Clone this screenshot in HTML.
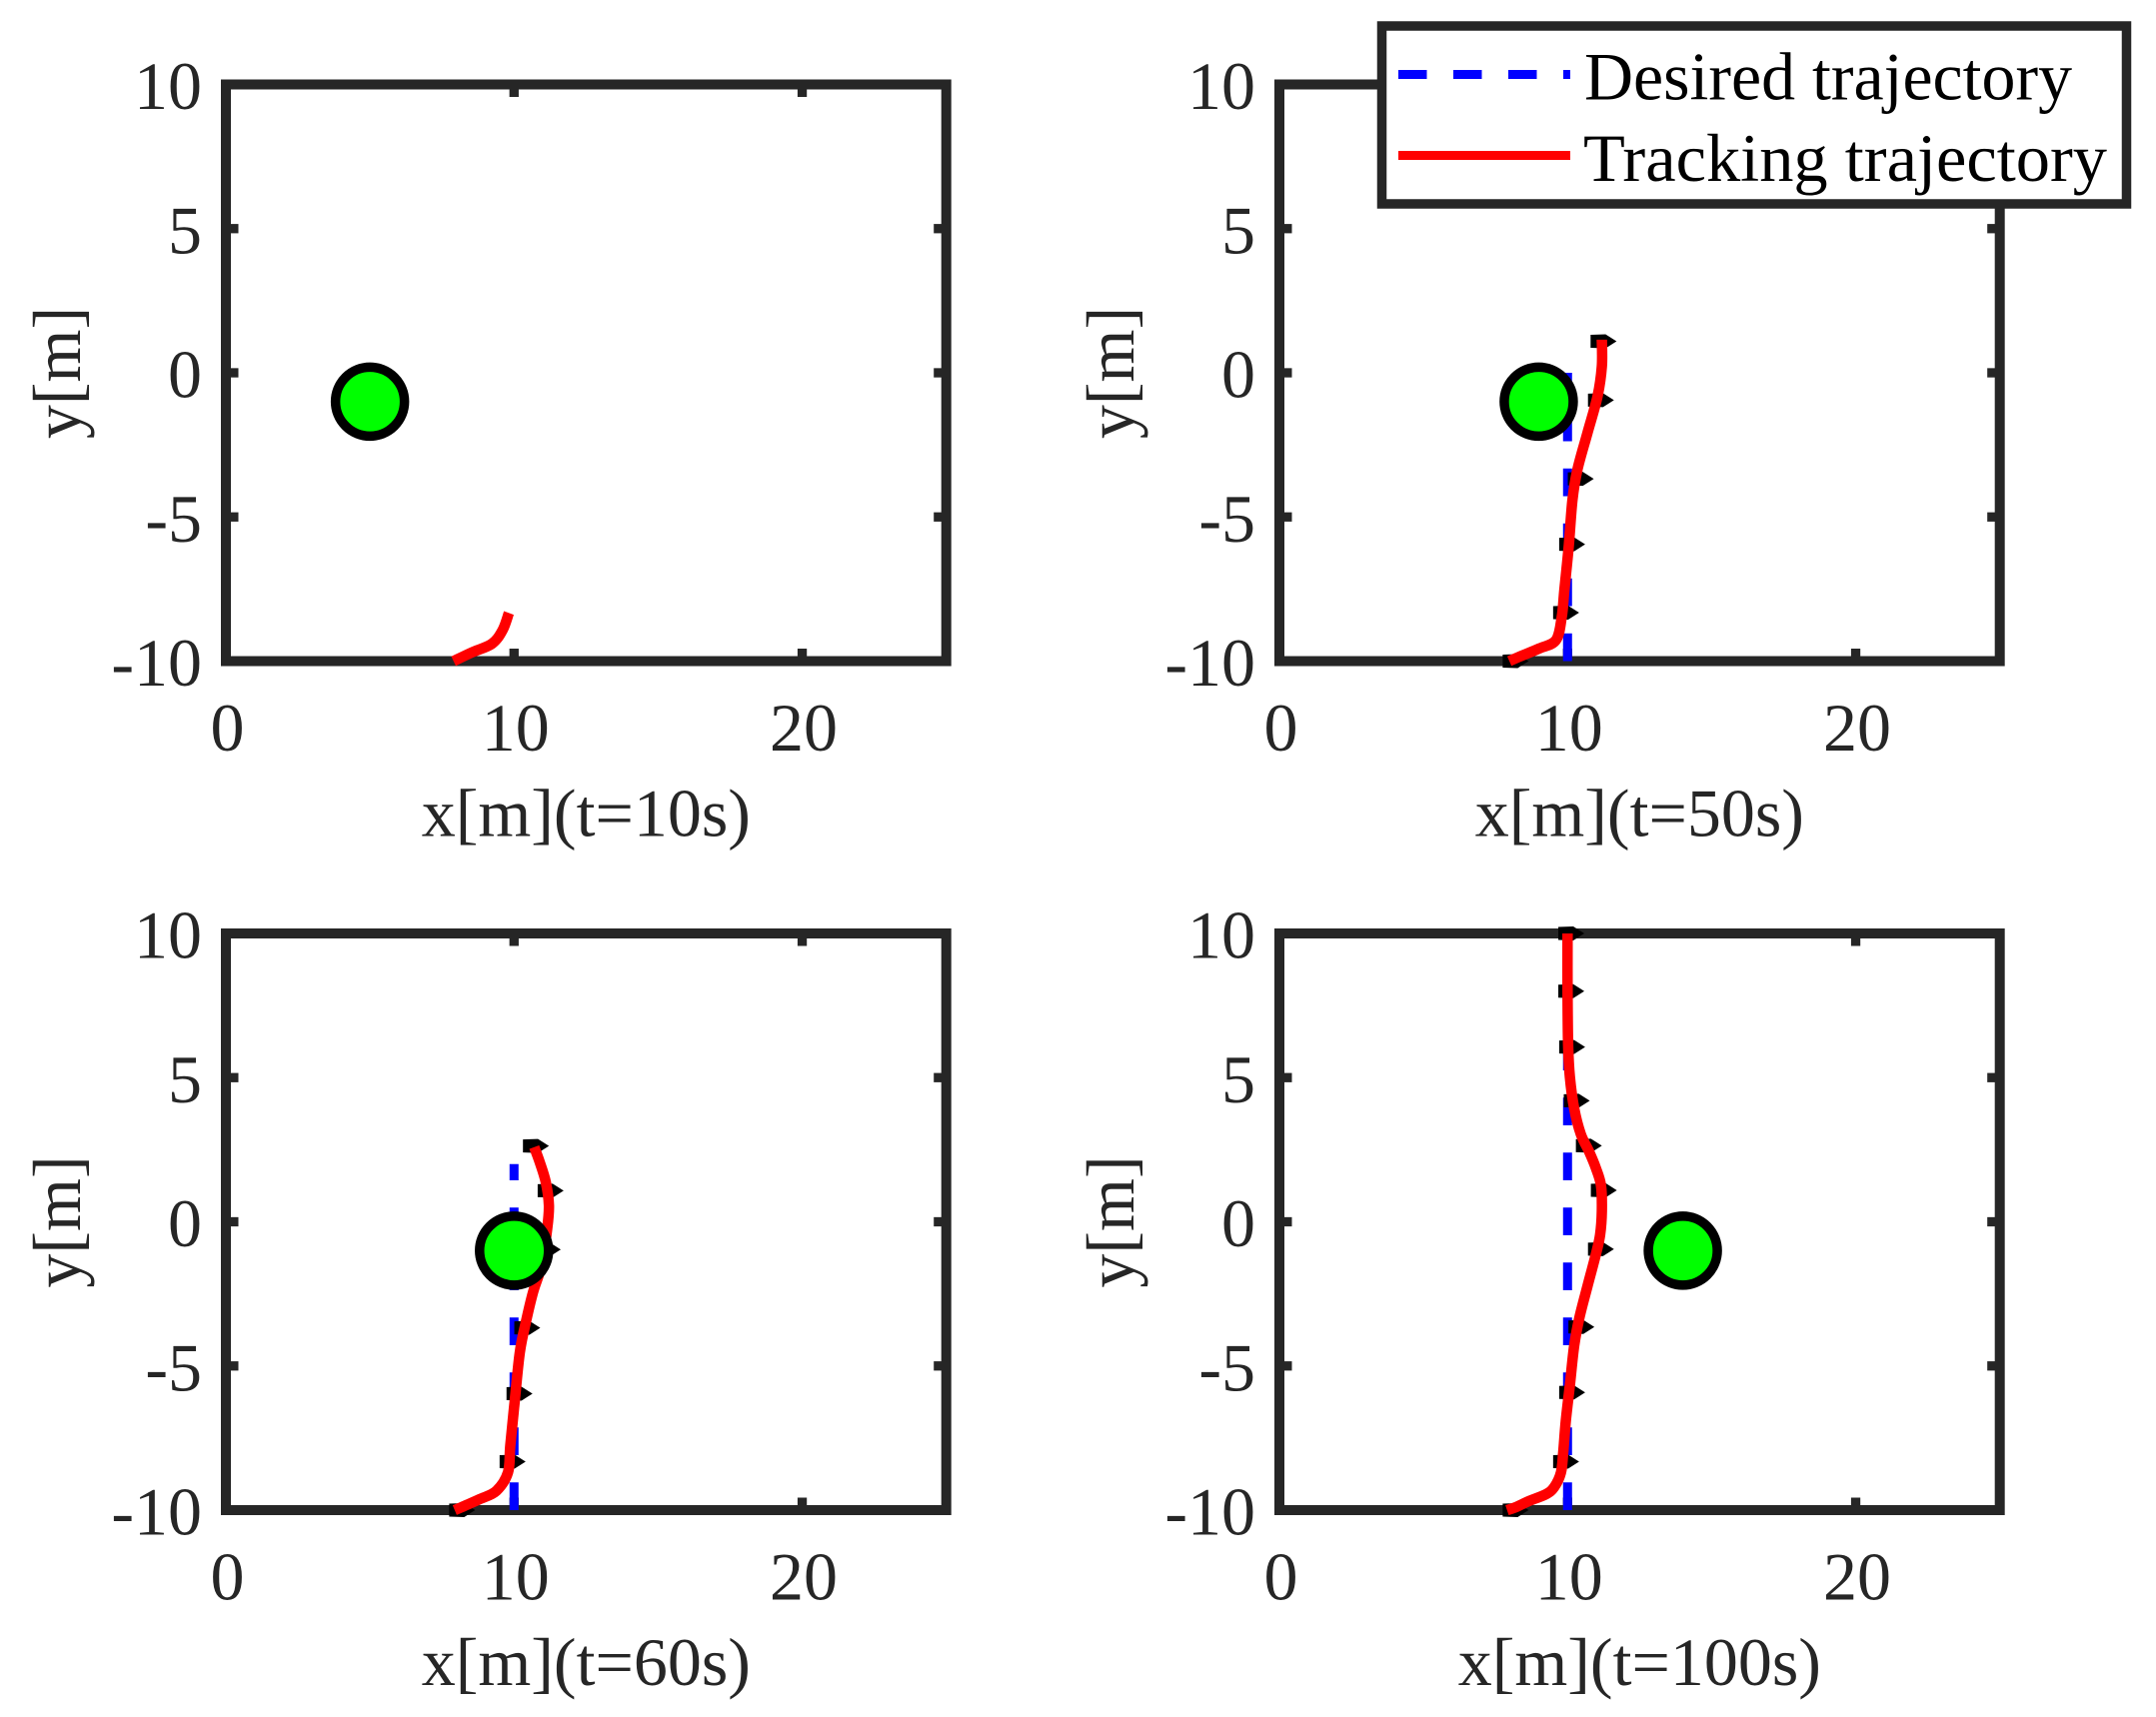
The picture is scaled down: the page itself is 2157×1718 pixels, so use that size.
<!DOCTYPE html>
<html lang="en">
<head>
<meta charset="utf-8">
<title>Trajectory tracking panels</title>
<style>
html,body{margin:0;padding:0;background:#fff;width:2157px;height:1718px;overflow:hidden}
svg{display:block}
text{font-family:"Liberation Serif","Times New Roman",serif}
</style>
</head>
<body>
<svg id="figure" xmlns="http://www.w3.org/2000/svg" width="2157" height="1718" viewBox="0 0 2157 1718">
<rect x="0" y="0" width="2157" height="1718" fill="#ffffff"/>
<g id="panels"></g>
<g>
<rect x="1382.5" y="26" width="745" height="178" fill="#ffffff" stroke="#262626" stroke-width="9.5"/>
<line x1="1399" y1="74.5" x2="1571" y2="74.5" stroke="#0000ff" stroke-width="9" stroke-dasharray="28.5 26.5"/>
<text x="1585" y="99.5" font-size="68" fill="#000000" textLength="488" lengthAdjust="spacingAndGlyphs">Desired trajectory</text>
<line x1="1399" y1="155.5" x2="1571" y2="155.5" stroke="#ff0000" stroke-width="9"/>
<text x="1584" y="181" font-size="68" fill="#000000" textLength="524" lengthAdjust="spacingAndGlyphs">Tracking trajectory</text>
</g>
</svg>
<script>
// Axis ranges and ticks
const xDomain = [0, 25];
const yDomain = [-10, 10];
const xTickValues = [0, 10, 20];
const yTickValues = [-10, -5, 0, 5, 10];

// Desired path (vertical line at x = 10): x position and the y it has reached in each panel
const desiredX = 10;
const desiredStartY = -10;
const desiredEndYPanel2 = 0;
const desiredEndYPanel3 = 2;
const desiredEndYPanel4 = 10;

// Obstacle positions per panel
const obstacleX = [5, 9, 10, 14];
const obstacleY = [-1, -1, -1, -1];

// Axis labels per panel
const xAxisTitles = ["x[m](t=10s)", "x[m](t=50s)", "x[m](t=60s)", "x[m](t=100s)"];
const yAxisTitle = "y[m]";

// Tracking trajectories
const track1X = [7.9, 8.53, 9.23, 9.6, 9.82];
const track1Y = [-10, -9.7, -9.4, -8.93, -8.33];

const track2X = [7.98, 8.32, 9.02, 9.6, 9.8, 9.89, 10.04, 10.17, 10.34, 10.69, 11.04, 11.19, 11.19];
const track2Y = [-10, -9.85, -9.56, -9.27, -8.46, -7.53, -6.03, -4.41, -3.37, -2.09, -0.82, 0.22, 1.15];

const track3X = [7.94, 8.29, 8.81, 9.39, 9.79, 9.87, 10.02, 10.2, 10.41, 10.66, 10.95, 11.15, 11.21, 11.1, 10.89, 10.7];
const track3Y = [-10, -9.85, -9.62, -9.33, -8.69, -7.76, -6.25, -4.53, -3.48, -2.44, -1.52, -0.24, 0.57, 1.38, 2.07, 2.59];

const track4X = [7.9, 8.2, 8.67, 9.25, 9.54, 9.77, 9.85, 9.94, 10.08, 10.23, 10.41, 10.69, 10.98, 11.13, 11.19, 11.16, 10.98, 10.75, 10.46, 10.23, 10.08, 10.02, 10, 10];
const track4Y = [-10, -9.9, -9.68, -9.45, -9.2, -8.7, -8, -6.9, -5.67, -4.3, -3.33, -2.24, -1.14, -0.45, 0.36, 1.26, 1.87, 2.43, 3.04, 3.93, 5.03, 6.13, 8.05, 10];

// Waypoint markers
const marker2X = [8.2, 9.95, 10.16, 10.46, 11.16, 11.25];
const marker2Y = [-10, -8.32, -5.95, -3.68, -0.95, 1.09];

const marker3X = [8.2, 9.95, 10.19, 10.46, 11.17, 11.27, 10.76];
const marker3Y = [-10, -8.32, -5.96, -3.68, -0.96, 1.08, 2.63];

const marker4X = [8.2, 9.95, 10.16, 10.48, 11.16, 11.26, 10.74, 10.32, 10.16, 10.13, 10.13];
const marker4Y = [-10, -8.32, -5.92, -3.65, -0.95, 1.09, 2.64, 4.2, 6.06, 8, 10];

const panelSeries = [
  { trackX: track1X, trackY: track1Y, markerX: [], markerY: [], desiredEnd: null },
  { trackX: track2X, trackY: track2Y, markerX: marker2X, markerY: marker2Y, desiredEnd: desiredEndYPanel2 },
  { trackX: track3X, trackY: track3Y, markerX: marker3X, markerY: marker3Y, desiredEnd: desiredEndYPanel3 },
  { trackX: track4X, trackY: track4Y, markerX: marker4X, markerY: marker4Y, desiredEnd: desiredEndYPanel4 }
];

const SVG_NS = "http://www.w3.org/2000/svg";
const INK = "#262626";
const plotWidth = 720.7;
const plotHeight = 577;
const panelLefts = [226, 1280, 226, 1280];
const panelTops = [84.5, 84.5, 934, 934];

function make(tag, parent, attrs) {
  const el = document.createElementNS(SVG_NS, tag);
  for (const key in attrs) el.setAttribute(key, attrs[key]);
  parent.appendChild(el);
  return el;
}

function smoothPath(px, py) {
  let d = "M" + px[0].toFixed(2) + " " + py[0].toFixed(2);
  for (let i = 0; i < px.length - 1; i++) {
    const i0 = Math.max(i - 1, 0);
    const i3 = Math.min(i + 2, px.length - 1);
    const c1x = px[i] + (px[i + 1] - px[i0]) / 6;
    const c1y = py[i] + (py[i + 1] - py[i0]) / 6;
    const c2x = px[i + 1] - (px[i3] - px[i]) / 6;
    const c2y = py[i + 1] - (py[i3] - py[i]) / 6;
    d += " C" + c1x.toFixed(2) + " " + c1y.toFixed(2) + " " + c2x.toFixed(2) + " " + c2y.toFixed(2) + " " + px[i + 1].toFixed(2) + " " + py[i + 1].toFixed(2);
  }
  return d;
}

function drawPanel(index) {
  const left = panelLefts[index];
  const top = panelTops[index];
  const series = panelSeries[index];
  const xScale = v => left + (v - xDomain[0]) / (xDomain[1] - xDomain[0]) * plotWidth;
  const yScale = v => top + plotHeight - (v - yDomain[0]) / (yDomain[1] - yDomain[0]) * plotHeight;
  const bottom = top + plotHeight;
  const right = left + plotWidth;

  const root = document.getElementById("panels");
  const group = make("g", root, {});
  
  

  const frame = make("rect", group, { x: left, y: top, width: plotWidth, height: plotHeight, fill: "#ffffff", stroke: INK, "stroke-width": 10 });
  
  

  xTickValues.forEach(v => {
    const tickBottom = make("line", group, { x1: xScale(v), x2: xScale(v), y1: bottom, y2: bottom - 12.5, stroke: INK, "stroke-width": 9.3 });
    
    
    const tickTop = make("line", group, { x1: xScale(v), x2: xScale(v), y1: top, y2: top + 12.5, stroke: INK, "stroke-width": 9.3 });
    
    
    const label = make("text", group, { x: xScale(v) + 1.5, y: bottom + 89.5, "text-anchor": "middle", "font-size": 68, fill: INK });
    
    
    label.textContent = String(v);
  });

  yTickValues.forEach(v => {
    const tickLeft = make("line", group, { x1: left, x2: left + 12.5, y1: yScale(v), y2: yScale(v), stroke: INK, "stroke-width": 9.3 });
    
    
    const tickRight = make("line", group, { x1: right, x2: right - 12.5, y1: yScale(v), y2: yScale(v), stroke: INK, "stroke-width": 9.3 });
    
    
    const label = make("text", group, { x: left - 24, y: yScale(v) + 24.5, "text-anchor": "end", "font-size": 68, fill: INK });
    
    
    label.textContent = String(v);
  });

  const xTitle = make("text", group, { x: left + plotWidth / 2, y: bottom + 175, "text-anchor": "middle", "font-size": 68, fill: INK });
  
  
  xTitle.textContent = xAxisTitles[index];

  const yTitleX = left - 146;
  const yTitleY = top + plotHeight / 2;
  const yTitle = make("text", group, { x: yTitleX, y: yTitleY, "text-anchor": "middle", "font-size": 68, fill: INK, transform: "rotate(-90 " + yTitleX + " " + yTitleY + ")" });
  
  
  yTitle.textContent = yAxisTitle;

  if (series.desiredEnd !== null) {
    const desired = make("line", group, { x1: xScale(desiredX), x2: xScale(desiredX), y1: yScale(desiredStartY), y2: yScale(series.desiredEnd), stroke: "#0000ff", "stroke-width": 9, "stroke-dasharray": "27.7 27.3" });
    
    
  }

  series.markerX.forEach((mx, i) => {
    const cx = xScale(mx);
    const cy = yScale(series.markerY[i]);
    const pts = [[-13, -6.5], [2, -7], [13, 0], [2, 7], [-13, 6.5]].map(p => (cx + p[0]) + "," + (cy + p[1])).join(" ");
    const marker = make("polygon", group, { points: pts, fill: "#000000" });
    
    
  });

  const track = make("path", group, { d: smoothPath(series.trackX.map(xScale), series.trackY.map(yScale)), fill: "none", stroke: "#ff0000", "stroke-width": 10.5, "stroke-linejoin": "round", "stroke-linecap": "butt" });
  
  

  const obstacle = make("circle", group, { cx: xScale(obstacleX[index]), cy: yScale(obstacleY[index]), r: 34.5, fill: "#00ff00", stroke: "#000000", "stroke-width": 9.5 });
  
  
}

panelSeries.forEach((_, i) => drawPanel(i));
</script>
</body>
</html>
